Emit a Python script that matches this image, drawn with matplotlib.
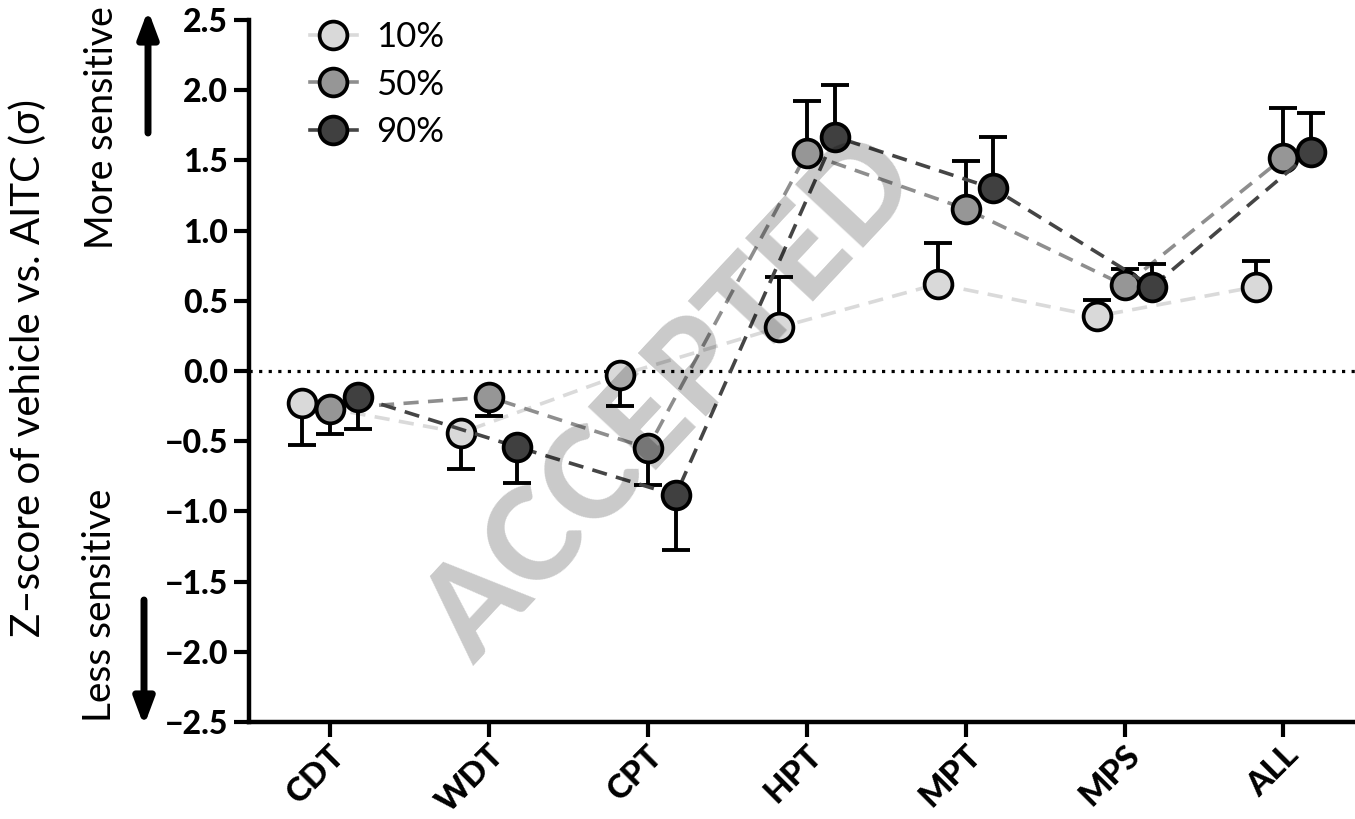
#!/usr/bin/env python3
"""Z-score of vehicle vs. AITC per QST parameter, for three percentiles."""
import matplotlib
matplotlib.use("Agg")
import matplotlib.pyplot as plt
from matplotlib.lines import Line2D

plt.rcParams['font.family'] = ['Lato', 'DejaVu Sans']

# data
categories = ["CDT", "WDT", "CPT", "HPT", "MPT", "MPS", "ALL"]
labels = ["10%", "50%", "90%"]
yticks = [-2.5, -2.0, -1.5, -1.0, -0.5, 0.0, 0.5, 1.0, 1.5, 2.0, 2.5]

z10 = [-0.23, -0.44, -0.03, 0.31, 0.62, 0.39, 0.60]
err10 = [0.30, 0.26, 0.22, 0.36, 0.29, 0.115, 0.18]
z50 = [-0.27, -0.185, -0.55, 1.55, 1.155, 0.61, 1.52]
err50 = [0.18, 0.135, 0.26, 0.37, 0.34, 0.12, 0.35]
z90 = [-0.185, -0.54, -0.885, 1.67, 1.30, 0.60, 1.56]
err90 = [0.23, 0.26, 0.39, 0.37, 0.37, 0.16, 0.28]

fills = ["#d9d9d9", "#969696", "#404040"]
linecols = ["#dadada", "#8e8e8e", "#454545"]
offsets = [-0.175, 0.0, 0.175]


def one_sided(vals, errs):
    """error bars point away from zero"""
    lo = [e if v < 0 else 0 for v, e in zip(vals, errs)]
    hi = [e if v >= 0 else 0 for v, e in zip(vals, errs)]
    return [lo, hi]


fig = plt.figure(figsize=(13.55, 8.19), dpi=100)
ax = fig.add_axes([249 / 1355, 1 - 722 / 819, 1 - 249 / 1355, (722 - 20) / 819])

ax.axhline(0, color="black", lw=2.3, ls=(0, (1.0, 2.0)), zorder=1)

series = [(z10, err10), (z50, err50), (z90, err90)]
for i, (vals, errs) in enumerate(series):
    xs = [k + offsets[i] for k in range(len(categories))]
    base = 2 + 2 * i
    ax.errorbar(xs, vals, yerr=one_sided(vals, errs), fmt="none",
                ecolor="black", elinewidth=2.8, capsize=10, capthick=2.8,
                zorder=base)
    ax.plot(xs, vals, color=linecols[i], lw=2.6, dashes=(4.2, 2.6),
            marker="o", markersize=20, markerfacecolor=fills[i],
            markeredgecolor="black", markeredgewidth=2.7, zorder=base + 1)

ax.set_xlim(-0.51, 6.45)
ax.set_ylim(-2.5, 2.5)
ax.set_yticks(yticks)
ax.set_yticklabels([("%.1f" % t).replace("-", "\u2212") for t in yticks],
                   fontweight=900, fontsize=23)
ax.set_xticks(range(len(categories)))
ax.set_xticklabels(categories, rotation=45, ha="right",
                   rotation_mode="anchor", fontweight=900, fontsize=24)
ax.tick_params(axis="both", width=3, length=11, pad=4)
ax.tick_params(axis="x", pad=2)

for s in ["top", "right"]:
    ax.spines[s].set_visible(False)
for s in ["left", "bottom"]:
    ax.spines[s].set_linewidth(3.2)

# legend
leg_handles = [Line2D([], [], color=linecols[i], lw=2.6, marker="o",
                      markersize=20, markerfacecolor=fills[i],
                      markeredgecolor="black", markeredgewidth=2.7)
               for i in range(3)]
ax.legend(leg_handles, labels, loc="upper left", frameon=False,
          bbox_to_anchor=(310 / 1355, 1 - 21 / 819),
          bbox_transform=fig.transFigure, fontsize=25, handlelength=1.35,
          handletextpad=0.55, labelspacing=0.45, borderpad=0,
          borderaxespad=0)

# axis label and direction hints
fig.text(28 / 1355, 1 - 368 / 819, "Z\u2013score of vehicle vs. AITC (\u03c3)",
         rotation=90, ha="center", va="center", fontsize=29)
fig.text(102 / 1355, 1 - 128 / 819, "More sensitive", rotation=90,
         ha="center", va="center", fontsize=27)
fig.text(100 / 1355, 1 - 605 / 819, "Less sensitive", rotation=90,
         ha="center", va="center", fontsize=28)

arrow = dict(arrowstyle="-|>,head_length=1.6,head_width=0.6", lw=5,
             color="black", shrinkA=0, shrinkB=0)
ax.annotate("", xy=(148 / 1355, 1 - 10 / 819),
            xytext=(148 / 1355, 1 - 133 / 819),
            xycoords="figure fraction", textcoords="figure fraction",
            arrowprops=arrow, annotation_clip=False)
ax.annotate("", xy=(144 / 1355, 1 - 726 / 819),
            xytext=(144 / 1355, 1 - 600 / 819),
            xycoords="figure fraction", textcoords="figure fraction",
            arrowprops=arrow, annotation_clip=False)

# watermark
fig.text(672 / 1355, 1 - 400 / 819, "ACCEPTED", rotation=47,
         ha="center", va="center", fontsize=92, fontweight=900,
         color="black", alpha=0.21, zorder=20)

fig.savefig("out.png", dpi=100)
